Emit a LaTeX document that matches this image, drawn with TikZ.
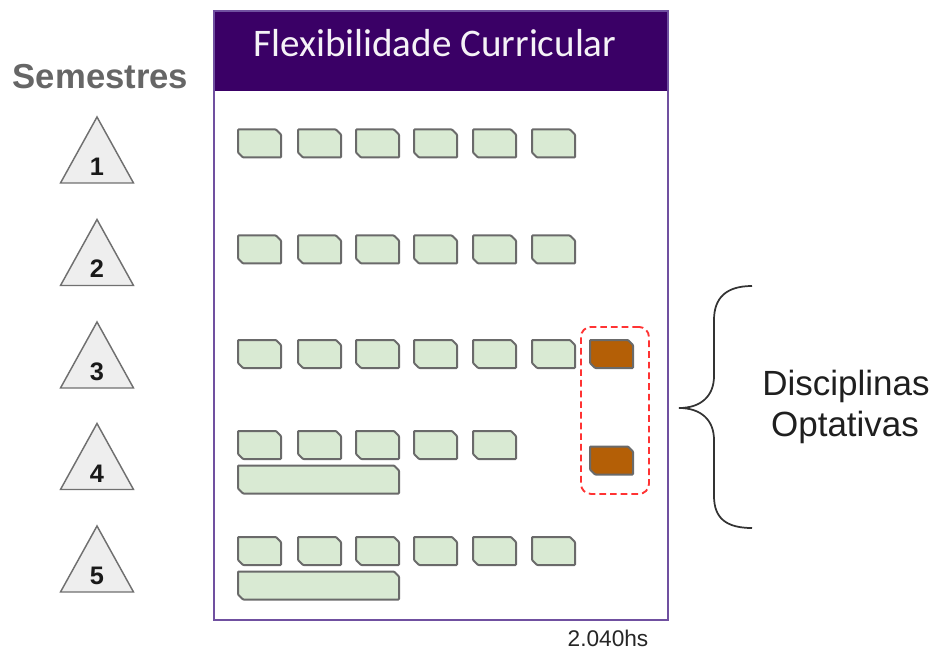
\documentclass[tikz,border=0pt]{standalone}
\usepackage{fontspec}
\setmainfont{Liberation Sans}
\newfontfamily\headfont{Carlito}
\usetikzlibrary{shapes.geometric}
\definecolor{hdr}{RGB}{58,0,102}
\definecolor{frm}{RGB}{112,80,160}
\definecolor{boxfill}{HTML}{D9EAD3}
\definecolor{boxline}{HTML}{6A6A6A}
\definecolor{optfill}{HTML}{B45F06}
\definecolor{trifill}{HTML}{EEEEEE}
\definecolor{triline}{HTML}{707070}
\definecolor{dashred}{HTML}{FF3333}
\definecolor{semgray}{HTML}{666666}
% place a named chamfered discipline box: #1 style, #2 name, #3 position
\newcommand\discbox[3]{%
  \node[#1, boxanchor] (#2) at #3 {};
  \draw[#1, rounded corners=0.6pt] (#2.north west) -- ([xshift=-3.75pt]#2.north east) -- ([yshift=-3.75pt]#2.north east)
    -- (#2.south east) -- ([xshift=3.75pt]#2.south west) -- ([yshift=3.75pt]#2.south west) -- cycle;
}
\begin{document}
\begin{tikzpicture}[x=0.75pt,y=-0.75pt,
  boxanchor/.style={inner sep=0pt, outer sep=0pt, draw=none, fill=none, minimum height=21pt},
  disc/.style={draw=boxline, line width=1.5pt, fill=boxfill, minimum width=32.25pt},
  longdisc/.style={disc, minimum width=120.75pt},
  optdisc/.style={disc, fill=optfill},
  tri/.style={draw=triline, fill=trifill, line width=1.1pt, line join=miter},
  trinum/.style={font=\bfseries\fontsize{19}{19}\selectfont, text=black!90, anchor=base, inner sep=0pt},
  optframe/.style={draw=dashred, line width=1.4pt, dash pattern=on 5pt off 3pt, rounded corners=7.5pt, inner sep=0pt, anchor=north west},
  bracestyle/.style={draw=black!80, line width=1.3pt}
]
\useasboundingbox (0,0) rectangle (935,652);

% frame and header
\node[fill=hdr, minimum width=340.9pt, minimum height=60.4pt, inner sep=0pt, anchor=north west] (header) at (212.5,10.5) {};
\node[draw=frm, line width=1.5pt, minimum width=340.9pt, minimum height=456.4pt, inner sep=0pt, anchor=north west] (frame) at (212.5,10.5) {};
\node[anchor=base, inner sep=0pt, text=white!95!hdr, font=\headfont\fontsize{29.3}{29.3}\selectfont] (title) at (435,57) {Flexibilidade Curricular};

% semesters
\node[anchor=base, inner sep=0pt, text=semgray, font=\bfseries\fontsize{26}{26}\selectfont] (semestres) at (100.5,88.3) {Semestres};
\foreach \n/\a in {1/117,2/219.5,3/322,4/423.5,5/526}{
  \draw[tri] (97,\a) -- (133.5,\a+66) -- (60.5,\a+66) -- cycle;
  \node[trinum] (s\n) at (97,\a+58.5) {\n};
}

% discipline boxes
\foreach \r/\y in {1/143.5,2/249.5,3/354,5/551}{
  \foreach \c/\x in {1/259.5,2/319.5,3/377.5,4/435.5,5/494.5,6/553.5}{
    \discbox{disc}{d\r-\c}{(\x,\y)}
  }
}
\foreach \c/\x in {1/259.5,2/319.5,3/377.5,4/435.5,5/494.5}{
  \discbox{disc}{d4-\c}{(\x,445)}
}
\discbox{longdisc}{long4}{(318.5,479.5)}
\discbox{longdisc}{long5}{(318.5,585.5)}

% optional
\node[optframe, minimum width=51pt, minimum height=125.25pt] (optbox) at (580,326) {};
\discbox{optdisc}{opt3}{(611.5,354)}
\discbox{optdisc}{opt4}{(611.5,460.5)}

% brace
\draw[bracestyle] (752,286) .. controls (726,286) and (714,298) .. (714,320)
  -- (714,376) .. controls (714,396) and (701,408) .. (679,408)
  .. controls (701,408) and (714,420) .. (714,440)
  -- (714,496) .. controls (714,518) and (726,528) .. (752,528);

\node[anchor=base, inner sep=0pt, text=black!88, font=\fontsize{26.25}{26.25}\selectfont] (disc1) at (846,395) {Disciplinas};
\node[anchor=base, inner sep=0pt, text=black!88, font=\fontsize{26.25}{26.25}\selectfont] (disc2) at (845,436.7) {Optativas};

\node[anchor=base, inner sep=0pt, text=black!85, font=\fontsize{17}{17}\selectfont] (hours) at (608,646.5) {2.040hs};
\end{tikzpicture}
\end{document}
